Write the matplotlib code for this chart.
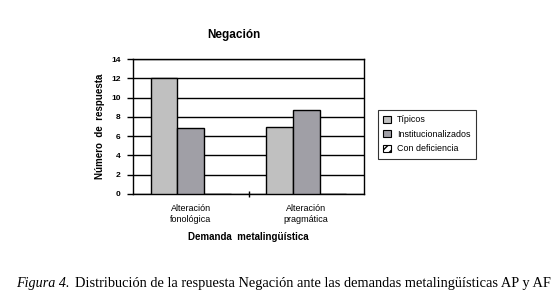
import numpy as np
import matplotlib
matplotlib.use("Agg")
import matplotlib.pyplot as plt
from matplotlib.patches import Patch

# datos
categorias = ["Alteración\nfonológica", "Alteración\npragmática"]
series = ["Típicos", "Institucionalizados", "Con deficiencia"]
tipicos = [12.0, 6.9]
institucionalizados = [6.8, 8.7]
con_deficiencia = [0.0, 0.0]
yticks = [0, 2, 4, 6, 8, 10, 12, 14]

colores = ["#c0c0c0", "#a09fa6", "white"]
hatches = [None, None, "////"]

plt.rcParams['font.family'] = ['Liberation Sans', 'DejaVu Sans']

fig = plt.figure(figsize=(5.55, 3.03), dpi=100)
ax = fig.add_axes([133 / 555, 1 - 194 / 303, 231 / 555, 135 / 303])

x = np.arange(len(categorias))
ancho = 0.23
valores = [tipicos, institucionalizados, con_deficiencia]
for i, vals in enumerate(valores):
    ax.bar(x + (i - 1) * ancho, vals, ancho, color=colores[i], edgecolor="black",
           linewidth=1.0, hatch=hatches[i], zorder=3)

ax.set_xlim(-0.5, 1.5)
ax.set_ylim(0, 14)
ax.set_yticks(yticks)
ax.set_yticklabels([str(v) for v in yticks], fontsize=6, fontweight="bold")
ax.yaxis.grid(True, color="black", linewidth=1.0, zorder=0)
ax.tick_params(axis="y", length=4, width=1, pad=5)

ax.set_xticks(x)
ax.set_xticklabels(categorias, fontsize=6.5, linespacing=1.3)
ax.tick_params(axis="x", which="major", length=0, pad=7)
ax.set_xticks([0.5], minor=True)
ax.tick_params(axis="x", which="minor", length=5, width=1, direction="inout")

for s in ax.spines.values():
    s.set_color("black")
    s.set_linewidth(1.0)

ax.set_ylabel("Número  de  respuesta", fontsize=7, fontweight="bold", labelpad=4)
ax.set_xlabel("Demanda  metalingüística", fontsize=7, fontweight="bold", labelpad=6)

fig.text(234 / 555, 1 - 35 / 303, "Negación", ha="center", va="center",
         fontsize=8.5, fontweight="bold")

handles = [Patch(facecolor=colores[i], edgecolor="black", hatch=hatches[i], linewidth=0.8)
           for i in range(3)]
leg = fig.legend(handles, series, loc="upper left", bbox_to_anchor=(378 / 555, 1 - 110 / 303),
                 fontsize=6.4, frameon=True, fancybox=False, edgecolor="black",
                 handlelength=0.9, handleheight=0.9, handletextpad=0.6,
                 borderpad=0.6, labelspacing=0.62, borderaxespad=0)
leg.get_frame().set_linewidth(0.8)

# pie de figura: parte en cursiva y resto a continuacion
fig.text(16 / 555, 1 - 284 / 303, "Figura 4.", ha="left", va="center",
         fontsize=10.2, family="Liberation Serif", style="italic")
fig.text(75 / 555, 1 - 284 / 303,
         "Distribución de la respuesta Negación ante las demandas metalingüísticas AP y AF",
         ha="left", va="center", fontsize=10.35, family="Liberation Serif")

fig.savefig("out.png", dpi=100)
